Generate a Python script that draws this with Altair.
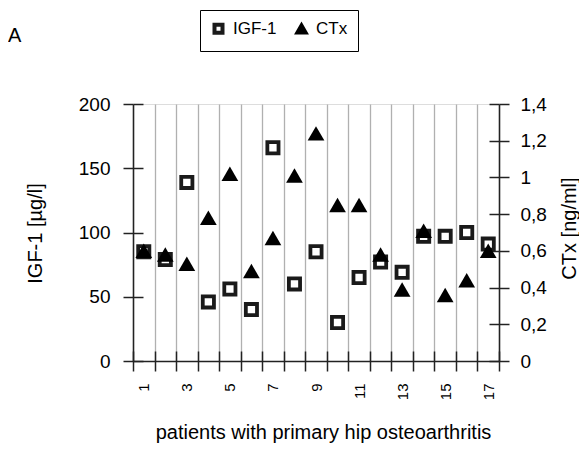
import altair as alt
import pandas as pd

patients = [1, 2, 3, 4, 5, 6, 7, 8, 9, 10, 11, 12, 13, 14, 15, 16, 17]
igf = [85, 79, 139, 46, 56, 40, 166, 60, 85, 30, 65, 77, 69, 97, 97, 100, 91]
ctx = [0.60, 0.58, 0.53, 0.78, 1.02, 0.49, 0.67, 1.01, 1.24, 0.85, 0.85, 0.58, 0.39, 0.71, 0.36, 0.44, 0.60]
series_names = ["IGF-1", "CTx"]
x_label_values = [1, 3, 5, 7, 9, 11, 13, 15, 17]
x_bounds = [i + 0.5 for i in range(18)]
igf_ticks = [0, 50, 100, 150, 200]
ctx_ticks = [0, 0.2, 0.4, 0.6, 0.8, 1.0, 1.2, 1.4]

df_igf = pd.DataFrame({"patient": patients, "value": igf, "series": "IGF-1"})
df_ctx = pd.DataFrame({"patient": patients, "value": ctx, "series": "CTx"})

FONT = "Liberation Sans"
AX = "#222222"

xscale = alt.Scale(domain=[0.5, 17.5], nice=False, zero=False)
igf_scale = alt.Scale(domain=[0, 200], nice=False)
ctx_scale = alt.Scale(domain=[0, 1.4], nice=False)

legend = alt.Legend(
    title=None, orient="none", legendX=67, legendY=-94, direction="horizontal",
    strokeColor="black", padding=10, labelFontSize=17, labelFont=FONT,
    labelColor="black", symbolSize=64, symbolStrokeWidth=4,
    symbolStrokeColor="black", labelOffset=6, columnPadding=12,
)
shape_enc = alt.Shape("series:N", scale=alt.Scale(domain=series_names, range=["square", "triangle-up"]), legend=legend)
fill_enc = alt.Fill("series:N", scale=alt.Scale(domain=series_names, range=["white", "black"]), legend=legend)
stroke_enc = alt.Stroke("series:N", scale=alt.Scale(domain=series_names, range=["#1a1a1a", "black"]), legend=legend)

# squares: IGF-1 with left axis and x grid/ticks
sq = alt.Chart(df_igf).mark_point(filled=True, strokeWidth=3.8, size=125, opacity=1).encode(
    x=alt.X("patient:Q", scale=xscale, axis=alt.Axis(
        orient="bottom", values=x_bounds, grid=True, gridColor="#b0b0b0", gridWidth=1.3, labels=False,
        ticks=True, tickSize=10, tickColor=AX, tickWidth=1.5, domainColor=AX, domainWidth=1.5, title=None)),
    y=alt.Y("value:Q", scale=igf_scale, axis=alt.Axis(
        orient="left", values=igf_ticks, grid=False, tickSize=10, tickColor=AX, tickWidth=1.5,
        domainColor=AX, domainWidth=1.5, labelFontSize=19, labelFont=FONT, labelColor="black",
        labelPadding=13, title="IGF-1 [µg/l]", titleAngle=270, titleX=-92, titleY=129,
        titleBaseline="alphabetic", titleAlign="center", titleFontSize=20, titleFont=FONT,
        titleFontWeight="normal", titleColor="black")),
    shape=shape_enc, fill=fill_enc, stroke=stroke_enc,
)

tri = alt.Chart(df_ctx).mark_point(filled=True, strokeWidth=0, size=280, opacity=1).encode(
    x=alt.X("patient:Q", scale=xscale, axis=None),
    y=alt.Y("value:Q", scale=ctx_scale, axis=alt.Axis(
        orient="right", values=ctx_ticks, grid=False, tickSize=10, tickColor=AX, tickWidth=1.5,
        domainColor=AX, domainWidth=1.5, labelFontSize=19, labelFont=FONT, labelColor="black",
        labelPadding=11,
        labelExpr="replace(format(datum.value, '~g'), '.', ',')",
        title="CTx [ng/ml]", titleAngle=270, titleX=76, titleY=124, titleBaseline="alphabetic",
        titleAlign="center", titleFontSize=20, titleFont=FONT, titleFontWeight="normal",
        titleColor="black")),
    shape=shape_enc, fill=fill_enc, stroke=stroke_enc,
)

# x labels and title
xlab = alt.Chart(df_igf).mark_point(opacity=0).encode(
    x=alt.X("patient:Q", scale=xscale, axis=alt.Axis(
        orient="bottom", values=x_label_values, grid=False, ticks=False, tickSize=0, domain=False,
        labelAngle=270, labelPadding=22, labelFontSize=15, labelFont=FONT, labelColor="black",
        title="patients with primary hip osteoarthritis", titleX=190, titleY=77,
        titleBaseline="alphabetic", titleFontSize=20, titleFont=FONT, titleFontWeight="normal",
        titleColor="black")),
)

# inner halves of crossing ticks
xin = alt.Chart(df_igf).mark_point(opacity=0).encode(
    x=alt.X("patient:Q", scale=xscale, axis=alt.Axis(
        orient="bottom", values=x_bounds, grid=False, labels=False, domain=False, tickSize=10,
        tickColor=AX, tickWidth=1.5, offset=-10, title=None)),
)
yin_l = alt.Chart(df_igf).mark_point(opacity=0).encode(
    y=alt.Y("value:Q", scale=igf_scale, axis=alt.Axis(
        orient="left", values=igf_ticks, grid=False, labels=False, domain=False, tickSize=10,
        tickColor=AX, tickWidth=1.5, offset=-10, title=None)),
)
yin_r = alt.Chart(df_ctx).mark_point(opacity=0).encode(
    y=alt.Y("value:Q", scale=ctx_scale, axis=alt.Axis(
        orient="right", values=ctx_ticks, grid=False, labels=False, domain=False, tickSize=10,
        tickColor=AX, tickWidth=1.5, offset=-10, title=None)),
)

chart = alt.layer(xin, yin_l, yin_r, xlab, sq, tri).resolve_scale(
    y="independent"
).resolve_axis(x="independent", y="independent").properties(
    width=366, height=257,
    autosize=alt.AutoSizeParams(type="none"),
    padding={"left": 125, "top": 96, "right": 80, "bottom": 82},
    title=alt.TitleParams("A", anchor="start", frame="group", dx=-125, offset=0, dy=52,
                          baseline="alphabetic", fontSize=20, fontWeight="normal",
                          font=FONT, color="black"),
).configure_view(stroke="#555555", strokeWidth=1.3).configure(font=FONT)

chart.save("out.html", embed_options={"renderer": "svg", "actions": False})
